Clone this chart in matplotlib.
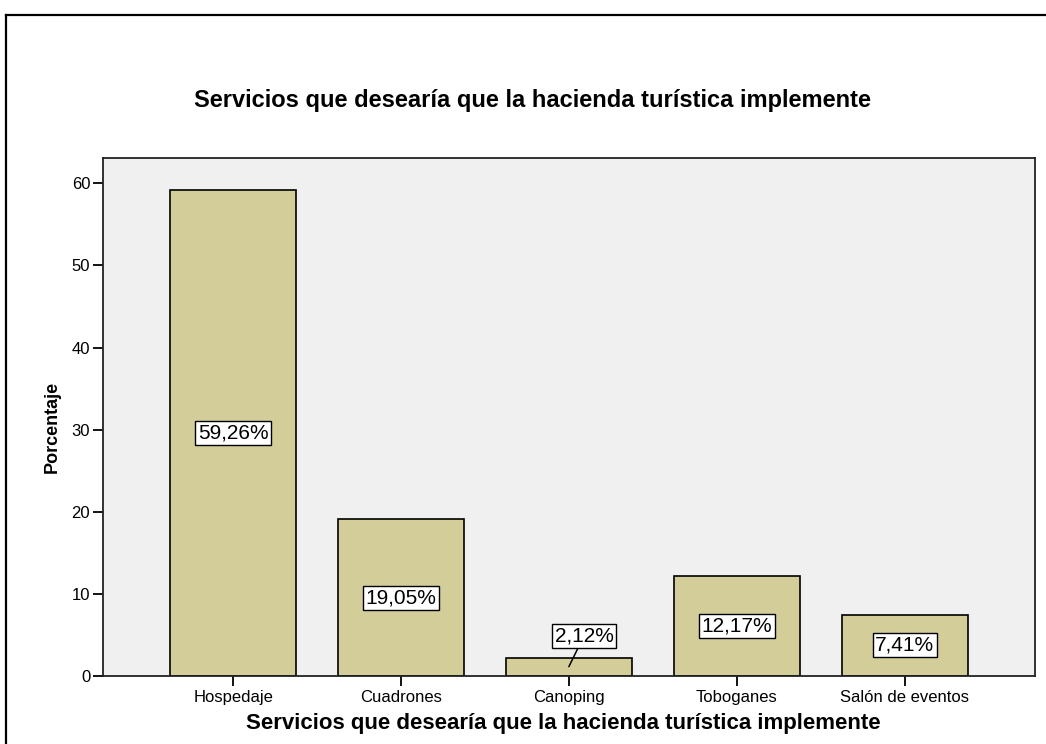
import matplotlib
matplotlib.use("Agg")
import matplotlib.pyplot as plt
from matplotlib.lines import Line2D

categories = ["Hospedaje", "Cuadrones", "Canoping", "Toboganes", "Salón de eventos"]
values = [59.26, 19.05, 2.12, 12.17, 7.41]
yticks = [0, 10, 20, 30, 40, 50, 60]
title = "Servicios que desearía que la hacienda turística implemente"
xlabel = "Servicios que desearía que la hacienda turística implemente"
ylabel = "Porcentaje"

plt.rcParams['font.family'] = ['Liberation Sans', 'DejaVu Sans']

W, H = 1046, 744
fig = plt.figure(figsize=(W / 100, H / 100), dpi=100)
fig.patch.set_facecolor("white")

ax = fig.add_axes([102.7 / W, (H - 675.7) / H, (1035 - 102.7) / W, (675.7 - 158) / H])
ax.set_facecolor("#f0f0f0")

x = list(range(len(categories)))
bars = ax.bar(x, values, width=0.751, color="#d3ce99", edgecolor="black", linewidth=1.2, zorder=2)

ax.set_xlim(-0.777, len(categories) - 1 + 0.777)
ax.set_ylim(0, 63.1)
ax.set_yticks(yticks)
ax.set_yticklabels([str(t) for t in yticks], fontsize=12)
ax.set_xticks(x)
ax.set_xticklabels(categories, fontsize=12)
ax.tick_params(axis="both", direction="out", length=7, width=1.3, color="black")
ax.tick_params(axis="x", pad=3)
ax.tick_params(axis="y", pad=2)
for s in ax.spines.values():
    s.set_linewidth(1.3)
    s.set_color("#222222")

box = dict(boxstyle="square,pad=0.12", facecolor="white", edgecolor="black", linewidth=1)
for i, v in enumerate(values):
    lab = f"{v:.2f}".replace(".", ",") + "%"
    if v < 4:
        ax.annotate(lab, xy=(i, 1.1), xytext=(i + 0.09, 4.84), ha="center", va="center",
                    fontsize=15, bbox=box, zorder=4,
                    arrowprops=dict(arrowstyle="-", lw=1.1, color="black", shrinkA=0, shrinkB=0))
    else:
        ax.text(i, v / 2, lab, ha="center", va="center", fontsize=15, bbox=box, zorder=4)

fig.text(533 / W, 1 - 100 / H, title, ha="center", va="center", fontsize=17, fontweight="bold")
fig.text(563 / W, 1 - 723 / H, xlabel, ha="center", va="center", fontsize=16, fontweight="bold")
fig.text(52.5 / W, 1 - 427 / H, ylabel, ha="center", va="center", rotation=90, fontsize=13,
         fontweight="bold")

# outer frame (top and left edges visible)
fig.add_artist(Line2D([6 / W, 1.0], [1 - 15 / H, 1 - 15 / H], transform=fig.transFigure, color="black", lw=1.6))
fig.add_artist(Line2D([6 / W, 6 / W], [0, 1 - 15 / H], transform=fig.transFigure, color="black", lw=1.6))

fig.savefig("out.png", dpi=100)
